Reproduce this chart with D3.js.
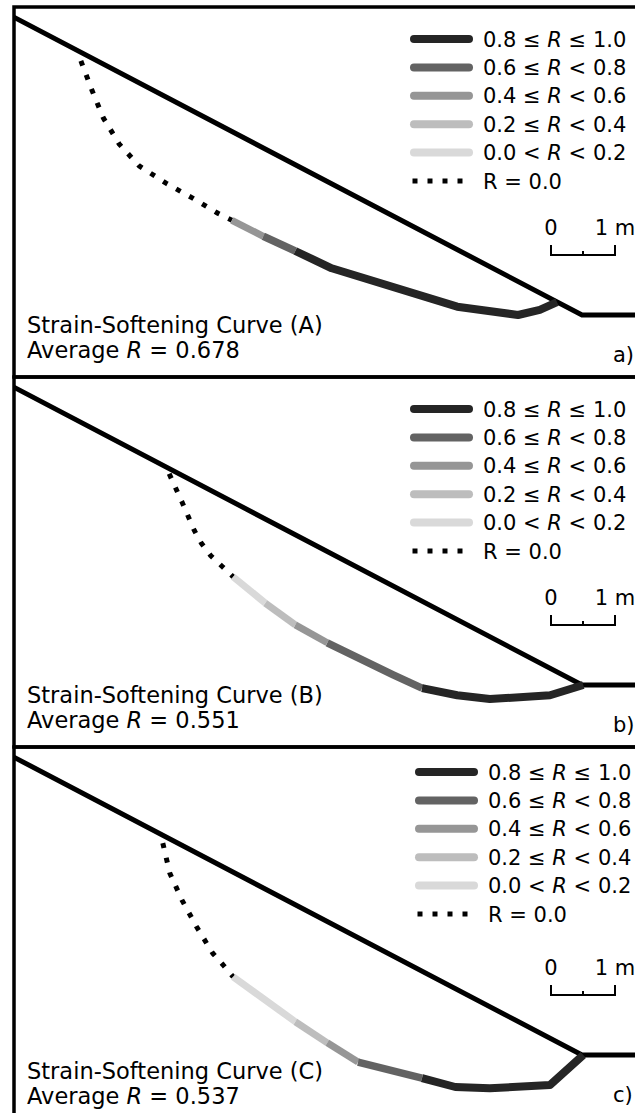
<!DOCTYPE html>
<html>
<head>
<meta charset="utf-8">
<script src="https://cdn.jsdelivr.net/npm/d3@7/dist/d3.min.js"></script>
<style>
body { margin: 0; background: #fff; }
svg text { font-family: 'DejaVu Sans', sans-serif; fill: #000; }
</style>
</head>
<body>
<svg id="chart" width="635" height="1113"></svg>
<script>
// ground profile in metres, origin at the toe of the slope
var groundX = [-9.5, 0, 1.5];
var groundY = [4.98, 0, 0];

// R classes (0 = strongest ... 4 = weakest, 5 = R = 0)
var bandLo  = ['0.8', '0.6', '0.4', '0.2', '0.0'];
var bandOp1 = ['≤', '≤', '≤', '≤', '<'];
var bandOp2 = ['≤', '<', '<', '<', '<'];
var bandHi  = ['1.0', '0.8', '0.6', '0.4', '0.2'];
var zeroLabel = 'R = 0.0';

// panel titles
var panelNames = ['Strain-Softening Curve (A)', 'Strain-Softening Curve (B)', 'Strain-Softening Curve (C)'];
var avgR = ['0.678', '0.551', '0.537'];
var panelTags = ['a)', 'b)', 'c)'];

// slip surfaces (x, y in m) and R class of each segment
var slipA = [[-7.83,3.97],[-7.66,3.52],[-7.48,3.08],[-7.23,2.67],[-6.92,2.33],[-6.50,2.06],[-6.09,1.83],
  [-5.69,1.59],[-5.47,1.48],[-4.98,1.23],[-4.48,1.00],[-3.91,0.73],[-1.95,0.13],[-1.00,0.00],[-0.66,0.08],[-0.39,0.20]];
var bandA = [5,5,5,5,5,5,5,5,2,1,0,0,0,0,0];

var slipB = [[-6.45,3.30],[-6.25,2.86],[-6.06,2.42],[-5.95,2.22],[-5.80,2.02],[-5.63,1.86],[-5.45,1.69],
  [-4.95,1.28],[-4.48,0.94],[-3.98,0.66],[-2.95,0.16],[-2.50,-0.05],[-1.95,-0.16],[-1.44,-0.22],[-0.50,-0.16],[0.02,0.00]];
var bandB = [5,5,5,5,5,5,4,3,2,1,1,0,0,0,0];

var slipC = [[-6.55,3.31],[-6.44,2.84],[-6.25,2.42],[-6.02,2.00],[-5.77,1.59],[-5.61,1.41],[-5.45,1.22],
  [-4.48,0.52],[-3.98,0.19],[-3.50,-0.11],[-2.50,-0.36],[-1.98,-0.50],[-1.44,-0.52],[-0.50,-0.47],[0.02,0.00]];
var bandC = [5,5,5,5,5,5,4,3,2,1,0,0,0,0];

var slips = [slipA, slipB, slipC];
var bands = [bandA, bandB, bandC];

// styling
var bandColors = ['#252525', '#636363', '#969696', '#bdbdbd', '#d9d9d9', '#000'];
var bandWidths = [8, 7.5, 7, 7, 7, 5];

var svg = d3.select('#chart');
var panelH = 370;
var frame = {x: 14, y: 7};

// 64 px per metre, toe at (582, 315) in the first panel
var xScale = d3.scaleLinear().domain([-9, 1]).range([6, 646]);
var yScale = d3.scaleLinear().domain([0, 5]).range([315, -5]);

var line = d3.line()
    .x(function(d){ return xScale(d[0]); })
    .y(function(d){ return yScale(d[1]); });

// legend / text placement tweaks per panel
var legendPos = [{x: 414, y: 39}, {x: 414, y: 39}, {x: 419, y: 32}];
var textPos = [{y1: 333, y2: 358}, {y1: 333, y2: 358}, {y1: 339, y2: 364}];

svg.append('defs').selectAll('clipPath')
    .data([0, 1, 2]).enter()
    .append('clipPath')
    .attr('id', function(d){ return 'clip' + d; })
    .append('rect')
    .attr('x', frame.x).attr('y', frame.y)
    .attr('width', 700).attr('height', panelH);

function mathLabel(sel, i) {
    sel.append('tspan').text(bandLo[i] + ' ' + bandOp1[i] + ' ');
    sel.append('tspan').attr('font-style', 'italic').text('R');
    sel.append('tspan').text(' ' + bandOp2[i] + ' ' + bandHi[i]);
}

[0, 1, 2].forEach(function(p) {
    var g = svg.append('g')
        .attr('transform', 'translate(0,' + (p * panelH) + ')');

    var plot = g.append('g').attr('clip-path', 'url(#clip' + p + ')');

    // ground surface
    plot.append('path')
        .datum(d3.zip(groundX, groundY))
        .attr('d', line)
        .attr('fill', 'none')
        .attr('stroke', '#000')
        .attr('stroke-width', 5)
        .attr('stroke-linejoin', 'miter');

    // split slip surface into runs of the same R class
    var pts = slips[p], bd = bands[p];
    var runs = [];
    bd.forEach(function(b, k) {
        var last = runs[runs.length - 1];
        if (last && last.band === b) {
            last.pts.push(pts[k + 1]);
        } else {
            runs.push({band: b, pts: [pts[k], pts[k + 1]]});
        }
    });

    plot.selectAll('.run')
        .data(runs).enter()
        .append('path')
        .attr('class', 'run')
        .attr('d', function(d){ return line(d.pts); })
        .attr('fill', 'none')
        .attr('stroke', function(d){ return bandColors[d.band]; })
        .attr('stroke-width', function(d){ return bandWidths[d.band]; })
        .attr('stroke-linejoin', 'round')
        .attr('stroke-linecap', 'butt')
        .attr('stroke-dasharray', function(d){ return d.band === 5 ? '5 10' : null; });

    // legend
    var lp = legendPos[p];
    var rowH = 28.4;
    var leg = g.append('g');
    [0, 1, 2, 3, 4, 5].forEach(function(i) {
        var y = lp.y + i * rowH;
        if (i < 5) {
            leg.append('line')
                .attr('x1', lp.x).attr('x2', lp.x + 55)
                .attr('y1', y).attr('y2', y)
                .attr('stroke', bandColors[i])
                .attr('stroke-width', 8)
                .attr('stroke-linecap', 'round');
        } else {
            leg.append('line')
                .attr('x1', lp.x - 1.5).attr('x2', lp.x + 51)
                .attr('y1', y).attr('y2', y)
                .attr('stroke', '#000')
                .attr('stroke-width', 5)
                .attr('stroke-dasharray', '5 10');
        }
        var t = leg.append('text')
            .attr('x', lp.x + 69)
            .attr('y', y)
            .attr('dy', '0.36em')
            .attr('font-size', 21);
        if (i < 5) mathLabel(t, i);
        else t.text(zeroLabel);
    });

    // scale bar
    var sx = 551, sy = 255;
    var len = xScale(1) - xScale(0);
    var bar = g.append('g')
        .attr('fill', 'none')
        .attr('stroke', '#000')
        .attr('stroke-width', 2);
    bar.append('path')
        .attr('d', 'M' + sx + ',' + (sy - 10) + 'V' + sy + 'H' + (sx + len) + 'V' + (sy - 10));
    bar.append('line')
        .attr('x1', sx + len / 2).attr('x2', sx + len / 2)
        .attr('y1', sy - 4).attr('y2', sy);
    g.append('text').attr('x', sx).attr('y', 235)
        .attr('text-anchor', 'middle').attr('font-size', 21).text('0');
    g.append('text').attr('x', sx + len).attr('y', 235)
        .attr('text-anchor', 'middle').attr('font-size', 21).text('1 m');

    // panel texts
    var tp = textPos[p];
    g.append('text').attr('x', 27).attr('y', tp.y1)
        .attr('font-size', 22.5).text(panelNames[p]);
    var avg = g.append('text').attr('x', 27).attr('y', tp.y2)
        .attr('font-size', 22.5);
    avg.append('tspan').text('Average ');
    avg.append('tspan').attr('font-style', 'italic').text('R');
    avg.append('tspan').text(' = ' + avgR[p]);

    g.append('text').attr('x', 613).attr('y', 362)
        .attr('font-size', 21).text(panelTags[p]);

    // frame
    g.append('rect')
        .attr('x', frame.x).attr('y', frame.y)
        .attr('width', 700).attr('height', panelH)
        .attr('fill', 'none')
        .attr('stroke', '#000')
        .attr('stroke-width', 3.5);
});
</script>
</body>
</html>
